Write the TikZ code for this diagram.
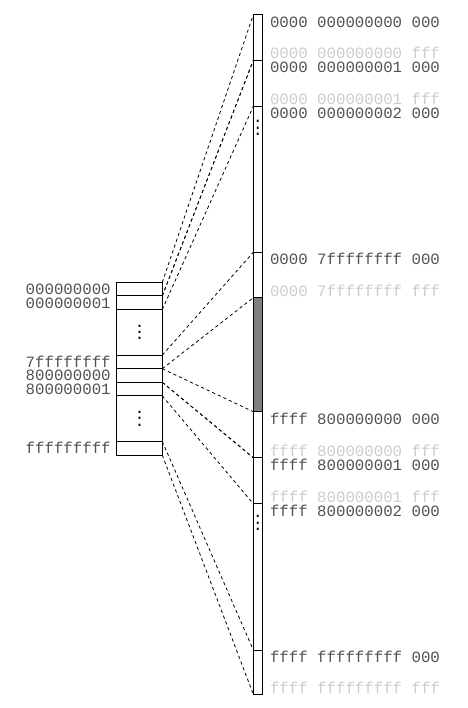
\documentclass[tikz,border=0pt]{standalone}
\usepackage{fontspec}
\setmonofont{Liberation Mono}
\definecolor{txtdark}{gray}{0.32}
\definecolor{txtlight}{gray}{0.8}
\definecolor{pagefill}{gray}{0.5}
\newcommand\myvdots{\vbox{\baselineskip4.8pt\lineskiplimit0pt\hbox{.}\hbox{.}\hbox{.}}}
\begin{document}
\begin{tikzpicture}[x=0.75pt,y=-0.75pt,
  cellbox/.style n args={2}{draw=black, line width=0.75pt, inner sep=0pt, outer sep=0pt,
    minimum width=#1*0.75pt, minimum height=#2*0.75pt},
  lab/.style={inner sep=0pt, outer sep=0pt, font=\ttfamily\fontsize{11.8}{14}\selectfont,
    text height=8pt, text depth=0pt},
  darklab/.style={lab, text=txtdark, anchor=west},
  lightlab/.style={lab, text=txtlight, anchor=west},
  leftlab/.style={lab, text=txtdark, anchor=east},
  dotsnode/.style={inner sep=0pt, outer sep=0pt, font=\ttfamily\fontsize{11.8}{14}\selectfont, text=black},
  conn/.style={draw=black, line width=0.6pt, dash pattern=on 2.4pt off 2.2pt}]
\useasboundingbox (0,0) rectangle (468,708);

% left column
\node[cellbox={45.6}{13.6}] (l0)  at (139.5,289.1) {};
\node[cellbox={45.6}{13.6}] (l1)  at (139.5,302.7) {};
\node[cellbox={45.6}{45.6}] (ld1) at (139.5,332.3) {};
\node[cellbox={45.6}{13.6}] (l7)  at (139.5,361.9) {};
\node[cellbox={45.6}{13.6}] (l8)  at (139.5,375.5) {};
\node[cellbox={45.6}{13.6}] (l81) at (139.5,389.1) {};
\node[cellbox={45.6}{45.6}] (ld2) at (139.5,418.7) {};
\node[cellbox={45.6}{13.6}] (lf)  at (139.5,448.3) {};
\node[dotsnode] (ldots1) at (ld1.center) {\myvdots};
\node[dotsnode] (ldots2) at (ld2.center) {\myvdots};

% left labels
\node[leftlab] (ll0)  at ([xshift=-4.5]l0.west)  {000000000};
\node[leftlab] (ll1)  at ([xshift=-4.5]l1.west)  {000000001};
\node[leftlab] (ll7)  at ([xshift=-4.5]l7.west)  {7ffffffff};
\node[leftlab] (ll8)  at ([xshift=-4.5]l8.west)  {800000000};
\node[leftlab] (ll81) at ([xshift=-4.5]l81.west) {800000001};
\node[leftlab] (llf)  at ([xshift=-4.5]lf.west)  {fffffffff};

% right column
\node[cellbox={9}{45.6}]  (r0)  at (257.8,37.5) {};
\node[cellbox={9}{46}]    (r1)  at (257.8,83.3) {};
\node[cellbox={9}{146}]   (rd1) at (257.8,179.3) {};
\node[cellbox={9}{45.4}]  (r7)  at (257.8,275) {};
\node[cellbox={9}{114}, fill=pagefill] (rg) at (257.8,354.7) {};
\node[cellbox={9}{46}]    (r8)  at (257.8,434.7) {};
\node[cellbox={9}{46}]    (r81) at (257.8,480.7) {};
\node[cellbox={9}{146.3}] (rd2) at (257.8,576.85) {};
\node[cellbox={9}{44.3}]  (rf)  at (257.8,672.15) {};
\node[dotsnode] (rdots1) at (257.8,128) {\myvdots};
\node[dotsnode] (rdots2) at (257.8,523) {\myvdots};

% right labels
\node[darklab]  (t0a)  at (270,21.7)  {0000 000000000 000};
\node[lightlab] (t0b)  at (270,53.3)  {0000 000000000 fff};
\node[darklab]  (t1a)  at (270,67.3)  {0000 000000001 000};
\node[lightlab] (t1b)  at (270,99.3)  {0000 000000001 fff};
\node[darklab]  (t2a)  at (270,113.3) {0000 000000002 000};
\node[darklab]  (t7a)  at (270,259.3) {0000 7ffffffff 000};
\node[lightlab] (t7b)  at (270,290.9) {0000 7ffffffff fff};
\node[darklab]  (t8a)  at (270,419)   {ffff 800000000 000};
\node[lightlab] (t8b)  at (270,450.7) {ffff 800000000 fff};
\node[darklab]  (t81a) at (270,465)   {ffff 800000001 000};
\node[lightlab] (t81b) at (270,496.7) {ffff 800000001 fff};
\node[darklab]  (t82a) at (270,510.7) {ffff 800000002 000};
\node[darklab]  (tfa)  at (270,656.9) {ffff fffffffff 000};
\node[lightlab] (tfb)  at (270,688)   {ffff fffffffff fff};

% connectors
\draw[conn] (l0.north east) -- (r0.north west);
\draw[conn] (l0.south east) -- (r0.south west);
\draw[conn] (l1.north east) -- (r1.north west);
\draw[conn] (l1.south east) -- (r1.south west);
\draw[conn] (l7.north east) -- (r7.north west);
\draw[conn] (l7.south east) -- (r7.south west);
\draw[conn] (l8.north east) -- (r8.north west);
\draw[conn] (l8.south east) -- (r8.south west);
\draw[conn] (l81.north east) -- (r81.north west);
\draw[conn] (l81.south east) -- (r81.south west);
\draw[conn] (lf.north east) -- (rf.north west);
\draw[conn] (lf.south east) -- (rf.south west);
\end{tikzpicture}
\end{document}
